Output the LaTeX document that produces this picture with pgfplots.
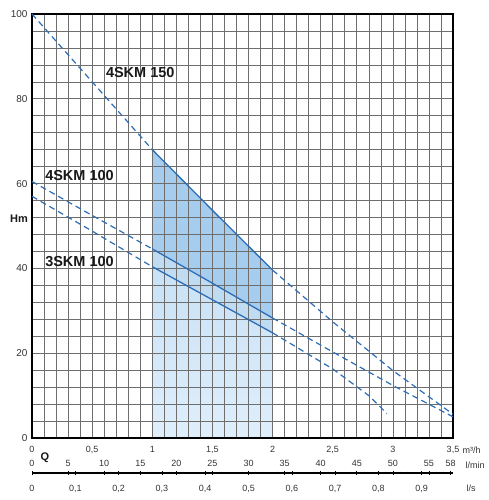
\documentclass[border=0pt]{standalone}
\usepackage{pgfplots}
\usepackage{pgfplotstable}
\pgfplotsset{compat=1.18}
\usepgfplotslibrary{fillbetween}
\usepackage{fontspec}
\setmainfont{Liberation Sans}

\definecolor{curve}{HTML}{2C6DB5}
\definecolor{gridc}{HTML}{6E6E6E}
\definecolor{fillDark}{HTML}{A6CDED}
\definecolor{fillMid}{HTML}{BFDCF3}
\definecolor{fillTop}{HTML}{C9E2F6}
\definecolor{fillBot}{HTML}{DFEEFB}
\definecolor{labc}{HTML}{333333}

% Q in m3/h, H in m
\pgfplotstableread{
q    h
0    100
0.5  84
1    68
1.5  53.7
2    39.6
2.5  27.4
3    15.9
3.5  5.6
}\fourB

\pgfplotstableread{
q    h
0    60.5
0.5  52.5
1    44.6
1.5  36.5
2    28.3
2.5  20.3
3    12.4
3.5  5.0
}\fourA

\pgfplotstableread{
q    h
0    57.0
0.5  48.8
1    40.4
1.5  32.6
2    24.8
2.5  16.3
2.8  10.0
2.95 5.8
}\threeA

\pgfplotsset{dsh/.style={curve, line width=1.2pt, dash pattern=on 6pt off 4pt},
             sld/.style={curve, line width=1.3pt}}

\begin{document}
\begin{tikzpicture}
\begin{axis}[
    name=main,
    at={(0,0)}, anchor=south west,
    scale only axis,
    width=421pt, height=424pt,
    set layers,
    xmin=0, xmax=3.5, ymin=0, ymax=100,
    xtick={0,0.5,...,3.5},
    ytick={0,20,...,100},
    minor x tick num=4,
    minor y tick num=4,
    grid=both,
    grid style={gridc, line width=0.6pt},
    major grid style={gridc, line width=0.6pt},
    major tick length=0pt, minor tick length=0pt,
    axis line style={black, line width=1.1pt},
    /pgf/number format/assume math mode=true,
    xticklabel={\pgfmathprintnumber[use comma, fixed, precision=1]{\tick}},
    xticklabel style={font=\fontsize{9}{10}\selectfont, text=labc, yshift=-5pt},
    yticklabel style={font=\fontsize{10}{11}\selectfont, text=labc, xshift=-1pt},
    clip mode=individual,
]
% invisible paths for the shaded duty region
\addplot[draw=none, name path=B] table[x=q, y=h] {\fourB};
\addplot[draw=none, name path=A] table[x=q, y=h] {\fourA};
\addplot[draw=none, name path=T] table[x=q, y=h] {\threeA};
\addplot[draw=none, name path=Z] coordinates {(0,0) (3.5,0)};

\addplot[top color=fillTop, bottom color=fillBot, draw=none]
    fill between[of=T and Z, soft clip={domain=1:2}, on layer=axis background];
\addplot[fill=fillMid, draw=none]
    fill between[of=A and T, soft clip={domain=1:2}, on layer=axis background];
\addplot[fill=fillDark, draw=none]
    fill between[of=B and A, soft clip={domain=1:2}, on layer=axis background];

% curves: dashed outside 1..2 m3/h, solid inside
\addplot[dsh, restrict x to domain=0:1] table[x=q, y=h] {\fourB};
\addplot[sld, restrict x to domain=1:2] table[x=q, y=h] {\fourB};
\addplot[dsh, restrict x to domain=2:3.5] table[x=q, y=h] {\fourB};
\addplot[dsh, restrict x to domain=0:1] table[x=q, y=h] {\fourA};
\addplot[sld, restrict x to domain=1:2] table[x=q, y=h] {\fourA};
\addplot[dsh, restrict x to domain=2:3.5] table[x=q, y=h] {\fourA};
\addplot[dsh, restrict x to domain=0:1] table[x=q, y=h] {\threeA};
\addplot[sld, restrict x to domain=1:2] table[x=q, y=h] {\threeA};
\addplot[dsh, restrict x to domain=2:3.5] table[x=q, y=h] {\threeA};

\node[font=\bfseries\fontsize{14.5}{16}\selectfont, text=black!90] at (axis cs:0.90,86.1) {4SKM 150};
\node[font=\bfseries\fontsize{14.5}{16}\selectfont, text=black!90] at (axis cs:0.395,61.8) {4SKM 100};
\node[font=\bfseries\fontsize{14.5}{16}\selectfont, text=black!90] at (axis cs:0.395,41.7) {3SKM 100};
\node[font=\bfseries\fontsize{11}{12}\selectfont, text=black!90] at (axis cs:0,51.6) [xshift=-13pt] {Hm};
\node[font=\bfseries\fontsize{11}{12}\selectfont, text=black!90] at (axis cs:0,0) [xshift=13pt, yshift=-20pt] {Q};
\node[font=\fontsize{9}{10}\selectfont, text=labc, anchor=west] at (axis cs:3.5,0) [xshift=6pt, yshift=-12pt] {m³/h};
\node[font=\fontsize{9}{10}\selectfont, text=labc, anchor=west] at (axis cs:3.5,0) [xshift=9pt, yshift=-27pt] {l/min};
\node[font=\fontsize{9}{10}\selectfont, text=labc, anchor=west] at (axis cs:3.5,0) [xshift=10pt, yshift=-50pt] {l/s};
\end{axis}

% l/min scale
\begin{axis}[
    at={(0,-35pt)}, anchor=north west,
    scale only axis,
    width=421pt, height=1pt,
    xmin=0, xmax=58.3333, ymin=0, ymax=1,
    axis x line=top, axis y line=none,
    axis line style={black, line width=1.1pt, -},
    xtick={0,5,...,55,58},
    minor xtick={1,...,57},
    tick align=center,
    major tick length=5pt, minor tick length=3pt,
    tick style={black, line width=0.6pt},
    /pgf/number format/assume math mode=true,
    xticklabel style={font=\fontsize{9}{10}\selectfont, text=labc},
]
\addplot[draw=none] coordinates {(0,0.5) (58.3333,0.5)};
\end{axis}

% l/s scale
\begin{axis}[
    at={(0,-35pt)}, anchor=south west,
    scale only axis,
    width=421pt, height=1pt,
    xmin=0, xmax=0.972222, ymin=0, ymax=1,
    axis x line=bottom, axis y line=none,
    axis line style={black, line width=1.1pt, -},
    xtick={0,0.1,...,0.91},
    tick align=center,
    major tick length=5pt,
    tick style={black, line width=0.6pt},
    /pgf/number format/assume math mode=true,
    xticklabel={\pgfmathprintnumber[use comma, fixed, precision=1]{\tick}},
    xticklabel style={font=\fontsize{9}{10}\selectfont, text=labc, yshift=-6pt},
]
\addplot[draw=none] coordinates {(0,0.5) (0.972222,0.5)};
\end{axis}
\pgfresetboundingbox
\useasboundingbox (-32pt,-62pt) rectangle (456pt,438pt);
\end{tikzpicture}
\end{document}
